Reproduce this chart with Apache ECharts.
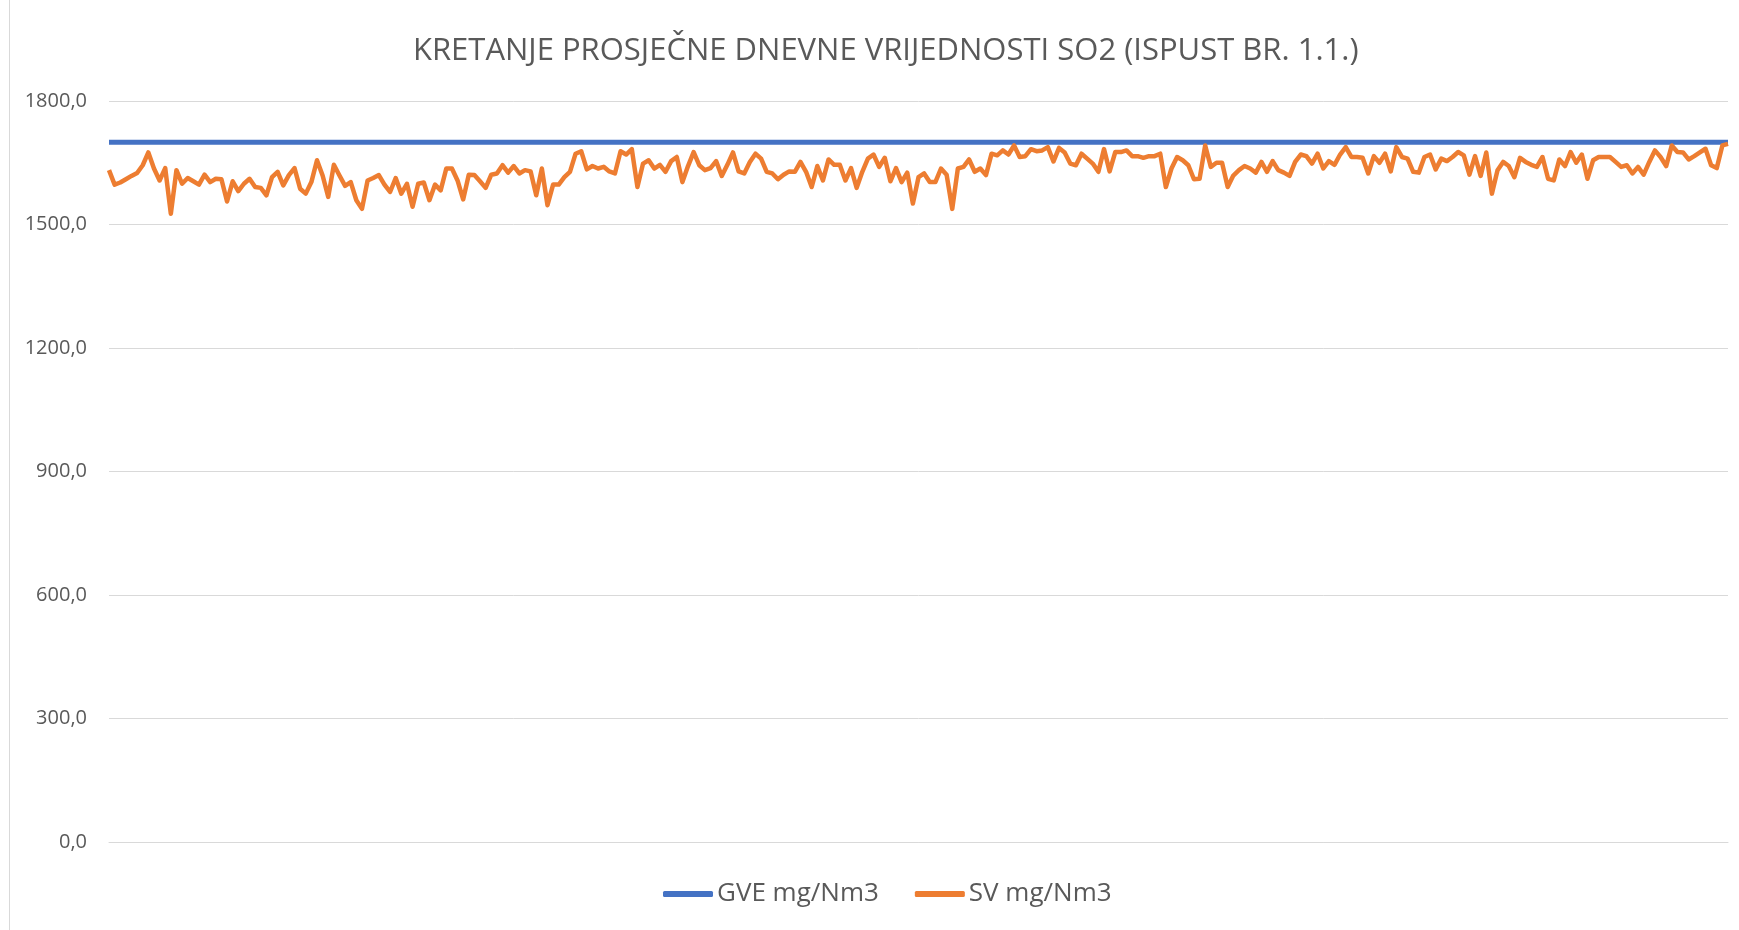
<!DOCTYPE html>
<html>
<head>
<meta charset="utf-8">
<script src="https://cdn.jsdelivr.net/npm/echarts@6/dist/echarts.min.js"></script>
<style>
html,body{margin:0;padding:0;background:#fff;}
#chart{width:1739px;height:930px;}
</style>
</head>
<body>
<div id="chart"></div>
<script>
const titleText = 'KRETANJE PROSJEČNE DNEVNE VRIJEDNOSTI SO2 (ISPUST BR. 1.1.)';
const seriesNames = ['GVE mg/Nm3', 'SV mg/Nm3'];
const yTicks = [0, 300, 600, 900, 1200, 1500, 1800];
const gveLimit = 1700;
const svValues = [
1632,1597,1602,1610,1618,1625,1644,1675,1636,1607,1637,1526,1632,1599,1613,1605,1597,1621,1603,1611,1610,1556,1605,1581,1599,1611,1591,1589,1571,1615,1628,1595,
1620,1637,1587,1575,1603,1656,1619,1567,1645,1619,1594,1603,1559,1538,1607,1613,1620,1597,1579,1613,1575,1599,1543,1599,1602,1559,1597,
1583,1636,1636,1607,1561,1621,1620,1605,1589,1621,1624,1644,1626,1642,1624,1632,1629,1571,1636,1547,1597,1597,1615,1628,1672,1678,1634,1642,1636,
1640,1629,1624,1678,1670,1683,1591,1648,1656,1636,1645,1628,1654,1664,1603,1642,1676,1644,1632,1637,1654,1618,1645,1675,1629,1624,1652,1672,1660,
1628,1624,1610,1621,1629,1628,1652,1628,1591,1642,1607,1658,1645,1645,1607,1637,1589,1628,1660,1670,1640,1662,1605,1637,1603,1626,1551,1615,
1624,1603,1603,1636,1621,1538,1636,1640,1658,1628,1636,1620,1672,1668,1680,1670,1692,1664,1666,1683,1678,1680,1688,1653,1686,1675,1648,1644,
1672,1660,1648,1628,1683,1629,1676,1676,1680,1666,1666,1662,1666,1666,1672,1591,1636,1664,1656,1644,1610,1611,1692,1640,1650,1650,1591,1619,
1632,1642,1636,1626,1652,1628,1654,1632,1626,1618,1652,1670,1666,1648,1672,1636,1654,1645,1670,1688,1664,1664,1662,1624,1666,1650,1672,1629,
1688,1664,1660,1628,1626,1664,1670,1634,1660,1654,1664,1676,1668,1621,1666,1618,1675,1575,1632,1652,1642,1615,1662,1652,1645,1640,1664,1611,
1607,1658,1642,1676,1650,1670,1611,1656,1664,1664,1664,1652,1640,1644,1624,1640,1621,1652,1680,1664,1642,1692,1676,1675,1658,1666,1675,1684,1644,1637,1692,1696
];
const days = svValues.map((_, i) => String(i + 1));
const gveValues = days.map(() => gveLimit);

const chart = echarts.init(document.getElementById('chart'));
chart.setOption({
  animation: false,
  backgroundColor: '#ffffff',
  title: {
    text: titleText,
    left: 408,
    top: 31,
    textStyle: { fontFamily: 'Open Sans', fontWeight: 'normal', fontSize: 31, color: '#595959' }
  },
  legend: {
    bottom: 18,
    left: 658,
    itemWidth: 50,
    itemHeight: 6,
    itemGap: 36,
    icon: 'roundRect',
    textStyle: { fontFamily: 'Open Sans', fontSize: 26, color: '#595959', padding: [0, 0, 0, -1] },
    data: seriesNames
  },
  grid: { left: 109, right: 11, top: 101, bottom: 88, containLabel: false },
  xAxis: {
    type: 'category',
    data: days,
    boundaryGap: false,
    axisLine: { show: true, lineStyle: { color: '#d9d9d9', width: 1 } },
    axisTick: { show: false },
    axisLabel: { show: false },
    splitLine: { show: false }
  },
  yAxis: {
    type: 'value',
    min: yTicks[0],
    max: yTicks[yTicks.length - 1],
    interval: 300,
    axisLine: { show: false },
    axisTick: { show: false },
    axisLabel: {
      fontFamily: 'Open Sans', fontSize: 20, color: '#595959', margin: 22,
      formatter: v => v.toFixed(1).replace('.', ',')
    },
    splitLine: { lineStyle: { color: '#d9d9d9', width: 1 } }
  },
  graphic: [{
    type: 'line', shape: { x1: 9.5, y1: 0, x2: 9.5, y2: 930 },
    style: { stroke: '#d9d9d9', lineWidth: 1 }
  }],
  series: [
    {
      name: seriesNames[0], type: 'line', data: gveValues, showSymbol: false,
      color: '#4472c4', lineStyle: { width: 5, color: '#4472c4' }, z: 2
    },
    {
      name: seriesNames[1], type: 'line', data: svValues, showSymbol: false,
      color: '#ed7d31', lineStyle: { width: 4.5, color: '#ed7d31', join: 'round' }, z: 3
    }
  ]
});
</script>
</body>
</html>
